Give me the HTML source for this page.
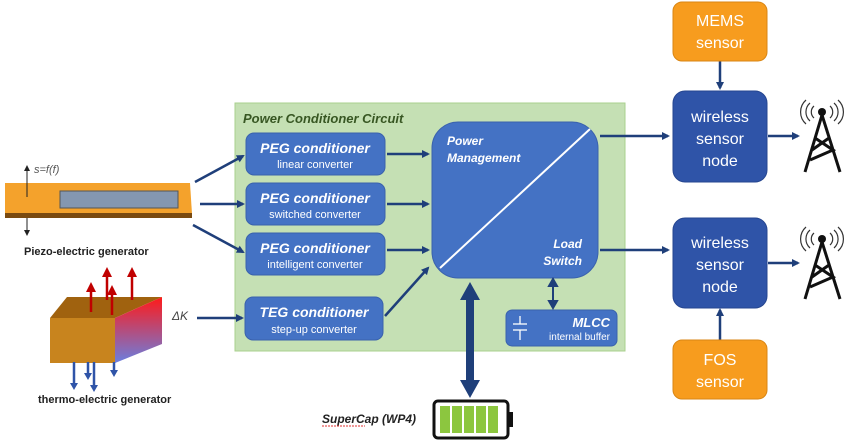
<!DOCTYPE html>
<html><head><meta charset="utf-8"><style>
html,body{margin:0;padding:0;background:#fff;}
svg{display:block;font-family:"Liberation Sans",Arial,sans-serif;}
</style></head><body>
<svg width="858" height="444" viewBox="0 0 858 444" xmlns="http://www.w3.org/2000/svg">
<defs>
<marker id="a" markerWidth="8" markerHeight="8" refX="6" refY="4" orient="auto" markerUnits="userSpaceOnUse"><path d="M0,0 L8,4 L0,8 z" fill="#1f3f7a"/></marker>
<linearGradient id="g" x1="0" y1="0" x2="0" y2="1"><stop offset="0" stop-color="#ff1a1a"/><stop offset="1" stop-color="#6a7fe0"/></linearGradient>
</defs>
<rect x="235" y="103" width="390" height="248" fill="#c5e0b4" stroke="#a9d08e"/>
<text x="243" y="123" font-size="13" font-weight="bold" font-style="italic" fill="#385723">Power Conditioner Circuit</text>
<g fill="#4472c4" stroke="#3a62ad">
<rect x="246" y="133" width="139" height="42" rx="8"/>
<rect x="246" y="183" width="139" height="42" rx="8"/>
<rect x="246" y="233" width="139" height="42" rx="8"/>
<rect x="245" y="297" width="138" height="43" rx="8"/>
<rect x="432" y="122" width="166" height="156" rx="26"/>
<rect x="506" y="310" width="111" height="36" rx="6"/>
</g>
<g fill="#fff" text-anchor="middle">
<text x="315" y="153" font-size="14" font-weight="bold" font-style="italic">PEG conditioner</text>
<text x="315" y="168" font-size="11">linear converter</text>
<text x="315" y="203" font-size="14" font-weight="bold" font-style="italic">PEG conditioner</text>
<text x="315" y="218" font-size="11">switched converter</text>
<text x="315" y="253" font-size="14" font-weight="bold" font-style="italic">PEG conditioner</text>
<text x="315" y="268" font-size="11">intelligent converter</text>
<text x="314" y="317" font-size="14" font-weight="bold" font-style="italic">TEG conditioner</text>
<text x="314" y="333" font-size="11">step-up converter</text>
</g>
<line x1="440" y1="268" x2="590" y2="129" stroke="#fff" stroke-width="2"/>
<g fill="#fff" font-weight="bold" font-style="italic" font-size="12">
<text x="447" y="145">Power</text><text x="447" y="162">Management</text>
<text x="582" y="248" text-anchor="end">Load</text><text x="582" y="265" text-anchor="end">Switch</text>
<text x="610" y="327" text-anchor="end" font-size="13">MLCC</text>
<text x="610" y="340" text-anchor="end" font-style="normal" font-weight="normal" font-size="10">internal buffer</text>
</g>
<g stroke="#fff" stroke-width="1.3"><line x1="513" y1="324" x2="527" y2="324"/><line x1="513" y1="330" x2="527" y2="330"/><line x1="520" y1="316" x2="520" y2="324"/><line x1="520" y1="330" x2="520" y2="340"/></g>
<g stroke="#1f3f7a" stroke-width="2.5" fill="none" marker-end="url(#a)">
<line x1="195" y1="182" x2="243" y2="156"/>
<line x1="200" y1="204" x2="243" y2="204"/>
<line x1="193" y1="225" x2="243" y2="252"/>
<line x1="197" y1="318" x2="242" y2="318"/>
<line x1="387" y1="154" x2="428" y2="154"/>
<line x1="387" y1="204" x2="428" y2="204"/>
<line x1="387" y1="250" x2="428" y2="250"/>
<line x1="385" y1="316" x2="428" y2="268"/>
<line x1="600" y1="136" x2="668" y2="136"/>
<line x1="600" y1="250" x2="668" y2="250"/>
<line x1="768" y1="136" x2="798" y2="136"/>
<line x1="768" y1="263" x2="798" y2="263"/>
<line x1="720" y1="61" x2="720" y2="88"/>
<line x1="720" y1="340" x2="720" y2="310"/>
</g>
<g stroke="#1f3f7a" stroke-width="2" fill="#1f3f7a"><line x1="553" y1="284" x2="553" y2="303"/><path d="M549,286 L553,279 L557,286z M549,301 L553,308 L557,301z"/></g>
<g fill="#1f3f7a"><rect x="466" y="296" width="8" height="88"/><path d="M460,300 L470,282 L480,300z M460,380 L470,398 L480,380z"/></g>
<rect x="434" y="401" width="74" height="37" rx="4" fill="#fff" stroke="#111" stroke-width="3"/>
<rect x="508" y="412" width="5" height="15" fill="#111"/>
<g fill="#8cc63f"><rect x="440" y="406" width="10" height="27"/><rect x="452" y="406" width="10" height="27"/><rect x="464" y="406" width="10" height="27"/><rect x="476" y="406" width="10" height="27"/><rect x="488" y="406" width="10" height="27"/></g>
<text x="322" y="423" font-size="12" font-weight="bold" font-style="italic" fill="#222">SuperCap (WP4)</text>
<line x1="322" y1="426" x2="365" y2="426" stroke="#e03030" stroke-width="1" stroke-dasharray="2,1"/>
<g fill="#f79c1e" stroke="#d98614"><rect x="673" y="2" width="94" height="59" rx="9"/><rect x="673" y="340" width="94" height="59" rx="9"/></g>
<g fill="#2f54a8" stroke="#264690"><rect x="673" y="91" width="94" height="91" rx="12"/><rect x="673" y="218" width="94" height="90" rx="12"/></g>
<g fill="#fff" font-size="16" text-anchor="middle">
<text x="720" y="26">MEMS</text><text x="720" y="48">sensor</text>
<text x="720" y="122">wireless</text><text x="720" y="144">sensor</text><text x="720" y="166">node</text>
<text x="720" y="248">wireless</text><text x="720" y="270">sensor</text><text x="720" y="292">node</text>
<text x="720" y="365">FOS</text><text x="720" y="387">sensor</text>
</g>
<g stroke="#111" stroke-width="3" fill="none">
<path d="M822,115 L805,172 M822,115 L840,172 M815,138 L833,150 L810,160 M829,138 L812,150"/>
<path d="M822,242 L805,299 M822,242 L840,299 M815,265 L833,277 L810,287 M829,265 L812,277"/>
</g>
<g stroke="#333" stroke-width="1.2" fill="none">
<path d="M814,106 a8,8 0 0 0 0,12 M810,103 a12,12 0 0 0 0,18 M806,100 a16,16 0 0 0 0,24 M830,106 a8,8 0 0 1 0,12 M834,103 a12,12 0 0 1 0,18 M838,100 a16,16 0 0 1 0,24"/>
<path d="M814,233 a8,8 0 0 0 0,12 M810,230 a12,12 0 0 0 0,18 M806,227 a16,16 0 0 0 0,24 M830,233 a8,8 0 0 1 0,12 M834,230 a12,12 0 0 1 0,18 M838,227 a16,16 0 0 1 0,24"/>
</g>
<circle cx="822" cy="112" r="4" fill="#111"/><circle cx="822" cy="239" r="4" fill="#111"/>
<polygon points="5,183 190,183 192,214 5,214" fill="#f4a22c"/>
<rect x="5" y="213" width="187" height="5" fill="#7a4a10"/>
<rect x="60" y="191" width="118" height="17" fill="#8497b0" stroke="#555"/>
<g stroke="#222" stroke-width="1"><line x1="27" y1="169" x2="27" y2="197"/><line x1="27" y1="218" x2="27" y2="232"/></g>
<path d="M24,171 L27,165 L30,171z M24,230 L27,236 L30,230z" fill="#222"/>
<text x="34" y="173" font-size="11" font-style="italic" fill="#555">s=f(f)</text>
<text x="24" y="255" font-size="11" font-weight="bold" fill="#222">Piezo-electric generator</text>
<polygon points="50,318 67,297 162,297 115,318" fill="#a0620f"/>
<rect x="50" y="318" width="65" height="45" fill="#c8841e"/>
<polygon points="115,318 162,297 162,344 115,363" fill="url(#g)"/>
<g stroke="#c00000" stroke-width="2.5"><line x1="91" y1="312" x2="91" y2="290"/><line x1="107" y1="300" x2="107" y2="275"/><line x1="112" y1="315" x2="112" y2="293"/><line x1="132" y1="300" x2="132" y2="275"/></g>
<path d="M86,292 L91,282 L96,292z M102,277 L107,267 L112,277z M107,295 L112,285 L117,295z M127,277 L132,267 L137,277z" fill="#c00000"/>
<g stroke="#2f54a8" stroke-width="2.5"><line x1="74" y1="362" x2="74" y2="385"/><line x1="88" y1="362" x2="88" y2="375"/><line x1="94" y1="362" x2="94" y2="387"/><line x1="114" y1="362" x2="114" y2="372"/></g>
<path d="M70,383 L74,390 L78,383z M84,373 L88,380 L92,373z M90,385 L94,392 L98,385z M110,370 L114,377 L118,370z" fill="#2f54a8"/>
<text x="172" y="320" font-size="12" font-style="italic" fill="#444">ΔK</text>
<text x="38" y="403" font-size="11" font-weight="bold" fill="#222">thermo-electric generator</text>
</svg>
</body></html>
